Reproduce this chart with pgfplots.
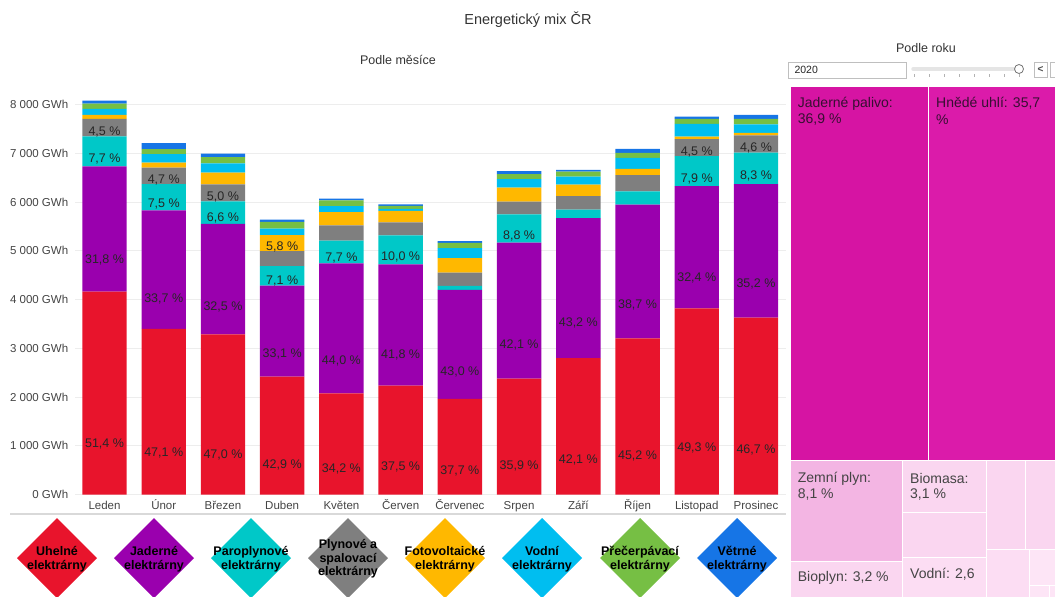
\documentclass[border=0pt]{standalone}
\usepackage{pgfplots}
\pgfplotsset{compat=1.18}
\usepackage{pgfplotstable}
\usepackage{fontspec}
\setmainfont{Liberation Sans}

\definecolor{cuh}{HTML}{E8142C}
\definecolor{cja}{HTML}{9A00AE}
\definecolor{cpa}{HTML}{00C8C8}
\definecolor{cpl}{HTML}{7F7F7F}
\definecolor{cfo}{HTML}{FFB800}
\definecolor{cvo}{HTML}{00BEF0}
\definecolor{cpr}{HTML}{76BF44}
\definecolor{cve}{HTML}{1675E6}
\definecolor{txt}{HTML}{444444}
\definecolor{tmA}{HTML}{D614A3}
\definecolor{tmB}{HTML}{DB1BAA}
\definecolor{tmC}{HTML}{F3B5E3}
\definecolor{tmD}{HTML}{FAD6F0}
\definecolor{tmE}{HTML}{FCDDF3}
\definecolor{tmF}{HTML}{FDE5F6}

% GWh per month, one column per source, plus the shown percentages
\pgfplotstableread[col sep=semicolon]{
x;uh;ja;pa;pl;fo;vo;pr;ve;luh;lja;lpa;lpl;lfo
0;4164;2567;616;357;82;123;109;62;51,4 \%;31,8 \%;7,7 \%;4,5 \%;{}
1;3396;2430;541;339;103;172;103;123;47,1 \%;33,7 \%;7,5 \%;4,7 \%;{}
2;3283;2270;461;349;240;191;129;70;47,0 \%;32,5 \%;6,6 \%;5,0 \%;{}
3;2418;1866;400;308;327;137;137;47;42,9 \%;33,1 \%;7,1 \%;{};5,8 \%
4;2073;2667;467;314;273;123;117;35;34,2 \%;44,0 \%;7,7 \%;{};{}
5;2232;2488;595;265;240;40;60;30;37,5 \%;41,8 \%;10,0 \%;{};{}
6;1960;2236;82;274;296;205;109;35;37,7 \%;43,0 \%;{};{};{}
7;2377;2788;583;261;287;171;103;62;35,9 \%;42,1 \%;8,8 \%;{};{}
8;2797;2870;177;275;238;164;103;35;42,1 \%;43,2 \%;{};{};{}
9;3204;2743;273;329;131;226;103;82;45,2 \%;38,7 \%;{};{};{}
10;3818;2509;612;349;55;259;103;49;49,3 \%;32,4 \%;7,9 \%;4,5 \%;{}
11;3630;2736;645;358;47;179;109;82;46,7 \%;35,2 \%;8,3 \%;4,6 \%;{}
}\mix

% the node style gets appended in both passes, so the half-height shift is split in two
\pgfplotsset{
  seg/.style={fill=#1, draw=none},
  lab/.style={nodes near coords, point meta=explicit symbolic,
    visualization depends on={rawy\as\rawy},
    every node near coord/.append style={anchor=center, inner sep=0pt,
      yshift={-0.0121875*\rawy},
      font=\fontsize{12.5}{14}\selectfont, text=black!85}},
}

\begin{document}
\begin{tikzpicture}
\useasboundingbox (0pt,0pt) rectangle (1055pt,-597pt);
\begin{scope}[x=1pt,y=-1pt]
  \node[font=\fontsize{14.5}{17}\selectfont, text=black!80] at (528,20) {Energetický mix ČR};
  \node[font=\fontsize{12.5}{15}\selectfont, text=black!80] at (398,60) {Podle měsíce};
  \draw[black!15, line width=1.2pt] (10,514) -- (786,514);
\end{scope}

\begin{axis}[
  at={(74.9pt,-494.5pt)}, anchor=south west,
  scale only axis, width=710.7pt, height=409.5pt,
  ybar stacked, bar width=0.75,
  xmin=-0.5, xmax=11.5, ymin=0, ymax=8400,
  xtick={0,...,11},
  xticklabels={Leden,Únor,Březen,Duben,Květen,Červen,Červenec,Srpen,Září,Říjen,Listopad,Prosinec},
  ytick={0,1000,...,8000},
  yticklabels={0 GWh,1 000 GWh,2 000 GWh,3 000 GWh,4 000 GWh,5 000 GWh,6 000 GWh,7 000 GWh,8 000 GWh},
  ymajorgrids, grid style={draw=black!7, line width=0.8pt},
  axis line style={draw=none}, major tick length=0pt,
  ticklabel style={font=\fontsize{11.5}{13}\selectfont, text=txt},
  yticklabel style={anchor=east, inner sep=0pt, xshift=-6.5pt},
  xticklabel style={anchor=base, inner sep=0pt, yshift=-15pt},
  clip=false,
]
\addplot[seg=cuh, lab=uh] table[x=x, y=uh, meta=luh] {\mix};
\addplot[seg=cja, lab=ja] table[x=x, y=ja, meta=lja] {\mix};
\addplot[seg=cpa, lab=pa] table[x=x, y=pa, meta=lpa] {\mix};
\addplot[seg=cpl, lab=pl] table[x=x, y=pl, meta=lpl] {\mix};
\addplot[seg=cfo, lab=fo] table[x=x, y=fo, meta=lfo] {\mix};
\addplot[seg=cvo] table[x=x, y=vo] {\mix};
\addplot[seg=cpr] table[x=x, y=pr] {\mix};
\addplot[seg=cve] table[x=x, y=ve] {\mix};
\end{axis}

\begin{scope}[x=1pt,y=-1pt]
  % legend diamonds
  \foreach \cx/\col/\lbl in {57/cuh/{Uhelné\\elektrárny}, 154/cja/{Jaderné\\elektrárny},
      251/cpa/{Paroplynové\\elektrárny}, 348/cpl/{Plynové a\\spalovací\\elektrárny},
      445/cfo/{Fotovoltaické\\elektrárny}, 542/cvo/{Vodní\\elektrárny},
      640/cpr/{Přečerpávací\\elektrárny}, 737/cve/{Větrné\\elektrárny}} {
    \fill[\col] (\cx,518) -- (\cx+40,558) -- (\cx,598) -- (\cx-40,558) -- cycle;
    \node[align=center, font=\bfseries\fontsize{12.5}{13.5}\selectfont, text=black, inner sep=0pt]
      at (\cx,559) {\lbl};
  }

  % year panel header
  \node[font=\fontsize{12.5}{15}\selectfont, text=black!80] at (926,48) {Podle roku};
  \draw[black!25, fill=white] (788,62) rectangle (906,78);
  \node[anchor=west, font=\fontsize{10.5}{12}\selectfont, text=black!85] at (791,70) {2020};
  \draw[black!10, line width=3.5pt, line cap=round] (913,69) -- (1019,69);
  \foreach \tx in {914,929,944,959,974,989,1004,1019}
    \draw[black!30, line width=0.5pt] (\tx,74) -- (\tx,77);
  \draw[black!55, fill=white, line width=0.8pt] (1019,69) circle (4.5);
  \draw[black!25, fill=white] (1034,62) rectangle (1047,77);
  \node[font=\bfseries\fontsize{10}{12}\selectfont, text=black!70] at (1040.5,69.5) {<};
  \draw[black!25, fill=white] (1050,62) rectangle (1060,77);

  % treemap
  \begin{scope}
  \clip (780,80) rectangle (1055,597);
  \tikzset{tm/.style={fill=#1, draw=white, line width=1pt}}
  \path[tm=tmA] (790.7,86) rectangle (928.5,460);
  \path[tm=tmB] (928.5,86) rectangle (1056,460);
  \path[tm=tmC] (790.7,460) rectangle (902.3,561);
  \path[tm=tmD] (790.7,561) rectangle (902.3,600);
  \path[tm=tmD] (902.3,460) rectangle (986.3,512);
  \path[tm=tmD] (902.3,512) rectangle (986.3,557.7);
  \path[tm=tmE] (902.3,557.7) rectangle (986.3,600);
  \path[tm=tmD] (986.3,460) rectangle (1025.7,549);
  \path[tm=tmD] (1025.7,460) rectangle (1056,549);
  \path[tm=tmE] (986.3,549) rectangle (1029,600);
  \path[tm=tmF] (1029,549) rectangle (1056,585);
  \path[tm=tmF] (1029,585) rectangle (1049.7,600);
  \path[tm=tmF] (1049.7,585) rectangle (1056,600);
  \end{scope}
  \tikzset{tmt/.style={anchor=west, inner sep=0pt, font=\fontsize{14}{16}\selectfont}}
  \node[tmt, text={rgb,255:red,55;green,15;blue,50}] at (797.7,103.3) {Jaderné palivo:};
  \node[tmt, text={rgb,255:red,55;green,15;blue,50}] at (797.7,120) {36,9 \%};
  \node[tmt, text={rgb,255:red,55;green,15;blue,50}] at (936,103.3) {Hnědé uhlí: 35,7};
  \node[tmt, text={rgb,255:red,55;green,15;blue,50}] at (936,120) {\%};
  \node[tmt, text=txt] at (797.7,478.3) {Zemní plyn:};
  \node[tmt, text=txt] at (797.7,494.3) {8,1 \%};
  \node[tmt, text=txt] at (910,478.3) {Biomasa:};
  \node[tmt, text=txt] at (910,494.3) {3,1 \%};
  \node[tmt, text=txt] at (797.7,578.3) {Bioplyn: 3,2 \%};
  \node[tmt, text=txt] at (910,574) {Vodní: 2,6};
\end{scope}
\end{tikzpicture}
\end{document}
